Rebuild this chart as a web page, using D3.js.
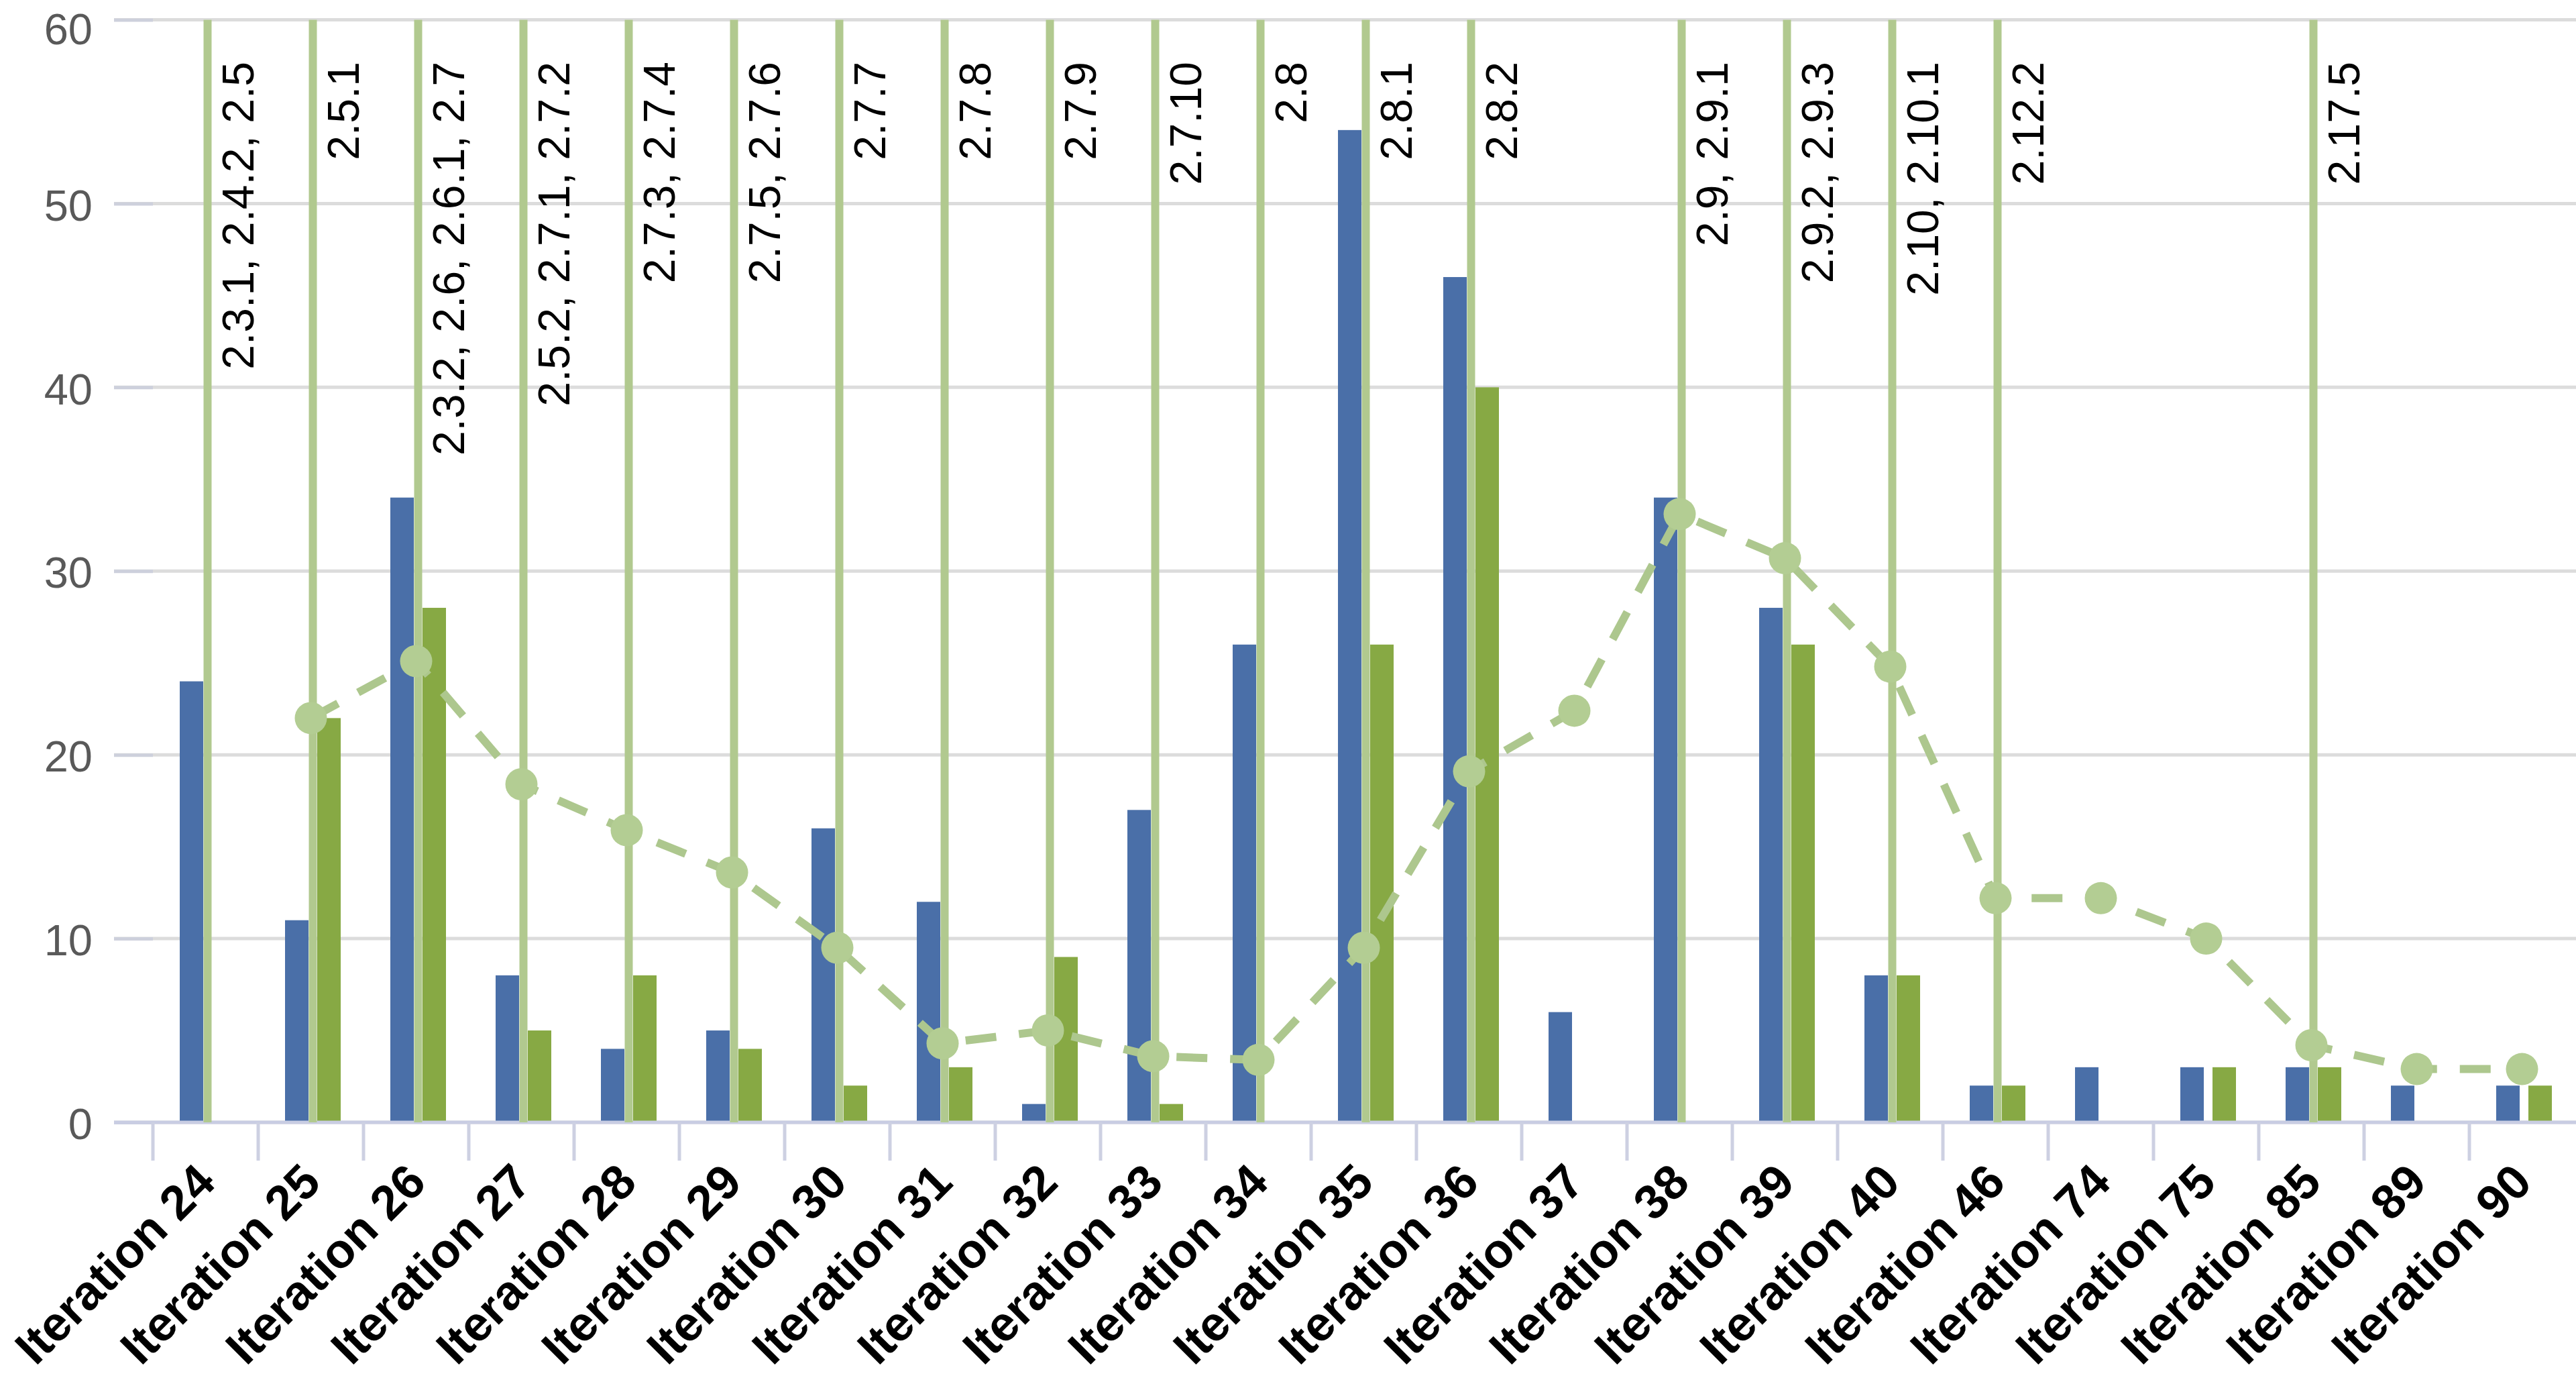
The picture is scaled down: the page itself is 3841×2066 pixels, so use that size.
<!DOCTYPE html>
<html>
<head>
<meta charset="utf-8">
<script src="https://cdn.jsdelivr.net/npm/d3@7"></script>
<style>
  body { margin: 0; background: #fff; }
  svg { display: block; font-family: "Liberation Sans", Arial, sans-serif; }
</style>
</head>
<body>
<svg id="chart" width="3841" height="2066"></svg>
<script>
// chart values
var iterations = ["Iteration 24", "Iteration 25", "Iteration 26", "Iteration 27", "Iteration 28",
  "Iteration 29", "Iteration 30", "Iteration 31", "Iteration 32", "Iteration 33", "Iteration 34",
  "Iteration 35", "Iteration 36", "Iteration 37", "Iteration 38", "Iteration 39", "Iteration 40",
  "Iteration 46", "Iteration 74", "Iteration 75", "Iteration 85", "Iteration 89", "Iteration 90"];
var blueCounts  = [24, 11, 34, 8, 4, 5, 16, 12, 1, 17, 26, 54, 46, 6, 34, 28, 8, 2, 3, 3, 3, 2, 2];
var greenCounts = [0, 22, 28, 5, 8, 4, 2, 3, 9, 1, 0, 26, 40, 0, 0, 26, 8, 2, 0, 3, 3, 0, 2];
var trendValues = [null, 22, 25.1, 18.4, 15.9, 13.6, 9.5, 4.3, 5.0, 3.6, 3.4, 9.5, 19.1, 22.4,
  33.1, 30.7, 24.8, 12.2, 12.2, 10.0, 4.2, 2.9, 2.9];
var releaseLabels = ["2.3.1, 2.4.2, 2.5", "2.5.1", "2.3.2, 2.6, 2.6.1, 2.7", "2.5.2, 2.7.1, 2.7.2",
  "2.7.3, 2.7.4", "2.7.5, 2.7.6", "2.7.7", "2.7.8", "2.7.9", "2.7.10", "2.8", "2.8.1", "2.8.2",
  null, "2.9, 2.9.1", "2.9.2, 2.9.3", "2.10, 2.10.1", "2.12.2", null, null, "2.17.5", null, null];
var yTicks = [0, 10, 20, 30, 40, 50, 60];

var data = iterations.map(function (d, i) {
  return { name: d, blue: blueCounts[i], green: greenCounts[i], trend: trendValues[i], release: releaseLabels[i] };
});

var svg = d3.select('#chart');
var width = 3841;

var x = d3.scaleBand().domain(iterations).range([228, 3839]).padding(0);
var y = d3.scaleLinear().domain([0, 60]).range([1673, 29.5]);
var bw = x.bandwidth();
function mid(d) { return x(d.name) + bw / 2; }

// gridlines
svg.append('g').selectAll('line')
  .data(yTicks).enter()
  .append('line')
  .attr('x1', 170).attr('x2', width)
  .attr('y1', function (d) { return y(d); })
  .attr('y2', function (d) { return y(d); })
  .attr('stroke', '#dcdcdc')
  .attr('stroke-width', 5);

// y axis: ticks to the left, labels
var yAxis = svg.append('g')
  .attr('transform', 'translate(228,0)')
  .call(d3.axisLeft(y).tickValues(yTicks).tickSize(58).tickPadding(32));
yAxis.select('.domain').remove();
yAxis.selectAll('.tick line').attr('stroke', '#cdd0dc').attr('stroke-width', 5);
yAxis.selectAll('.tick text')
  .attr('fill', '#595959')
  .attr('dy', function (d) { return d == 60 ? '0.55em' : '0.38em'; }) // top label pushed inside the frame
  .style('font-size', '65px')
  .style('font-family', '"Liberation Sans", Arial, sans-serif');

// bars
svg.append('g').selectAll('rect')
  .data(data).enter()
  .append('rect')
  .attr('x', function (d) { return mid(d) - 38.5; })
  .attr('width', 35)
  .attr('y', function (d) { return y(d.blue); })
  .attr('height', function (d) { return y(0) - y(d.blue); })
  .attr('fill', '#4a6fa8');

svg.append('g').selectAll('rect')
  .data(data).enter()
  .append('rect')
  .attr('x', function (d) { return mid(d) + 9.5; })
  .attr('width', 35)
  .attr('y', function (d) { return y(d.green); })
  .attr('height', function (d) { return y(0) - y(d.green); })
  .attr('fill', '#87a944');

// x axis line and boundary ticks
svg.append('line')
  .attr('x1', 170).attr('x2', width)
  .attr('y1', y(0)).attr('y2', y(0))
  .attr('stroke', '#c9cde3')
  .attr('stroke-width', 5);

var bounds = iterations.map(function (d) { return x(d); });
svg.append('g').selectAll('line')
  .data(bounds).enter()
  .append('line')
  .attr('x1', function (d) { return d; })
  .attr('x2', function (d) { return d; })
  .attr('y1', y(0)).attr('y2', y(0) + 57)
  .attr('stroke', '#cdd0e2')
  .attr('stroke-width', 5);

// release marker lines
var releases = data.filter(function (d) { return d.release; });
svg.append('g').selectAll('line')
  .data(releases).enter()
  .append('line')
  .attr('x1', function (d) { return mid(d) + 3; })
  .attr('x2', function (d) { return mid(d) + 3; })
  .attr('y1', y(60)).attr('y2', y(0))
  .attr('stroke', '#b1c98f')
  .attr('stroke-width', 12);

// dashed trend line with markers
var pts = data.filter(function (d) { return d.trend != null; });
var line = d3.line()
  .x(function (d) { return mid(d); })
  .y(function (d) { return y(d.trend); });
svg.append('path')
  .datum(pts)
  .attr('d', line)
  .attr('fill', 'none')
  .attr('stroke', '#adc78e')
  .attr('stroke-width', 12)
  .attr('stroke-dasharray', '46 34');

svg.append('g').selectAll('circle')
  .data(pts).enter()
  .append('circle')
  .attr('cx', function (d) { return mid(d); })
  .attr('cy', function (d) { return y(d.trend); })
  .attr('r', 24)
  .attr('fill', '#b3cd93');

// release labels, vertical
svg.append('g').selectAll('text')
  .data(releases).enter()
  .append('text')
  .attr('transform', function (d) { return 'translate(' + (mid(d) + 71) + ',92) rotate(-90)'; })
  .attr('text-anchor', 'end')
  .attr('fill', '#000')
  .style('font-size', '66px')
  .text(function (d) { return d.release; });

// category labels
svg.append('g').selectAll('text')
  .data(data).enter()
  .append('text')
  .attr('transform', function (d) { return 'translate(' + (mid(d) + 18) + ',1766) rotate(-45)'; })
  .attr('text-anchor', 'end')
  .attr('fill', '#000')
  .style('font-size', '72px')
  .style('font-weight', 'bold')
  .text(function (d) { return d.name; });
</script>
</body>
</html>
